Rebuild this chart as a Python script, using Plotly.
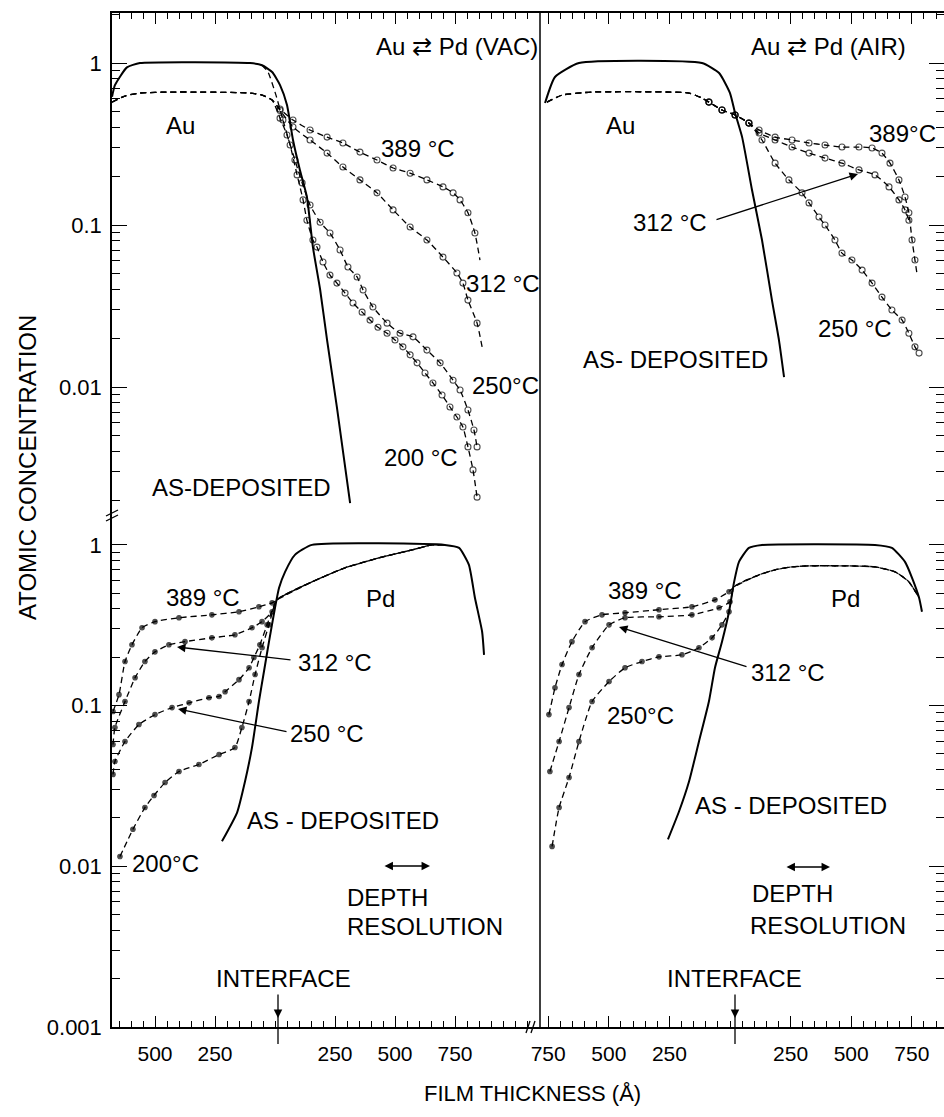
import plotly.graph_objects as go

# ---------------- depth profiles ----------------
# depth in Å from the Au/Pd interface (negative = Au side, positive = Pd side)
# concentration = atomic fraction

# Au profiles, vacuum anneal
au_vac_dep_x = [-679, -667, -617, -563, -104, -54, -12, 21, 50, 75, 104, 133, 158, 188, 217, 258, 313]
au_vac_dep_c = [0.62, 0.73, 0.94, 1.0, 1.0, 0.97, 0.88, 0.73, 0.55, 0.335, 0.218, 0.149, 0.073, 0.040, 0.0195, 0.0075, 0.00192]
au_vac_common_x = [-679, -625, -563, -438, -313, -104, -54, -12]
au_vac_common_c = [0.574, 0.626, 0.653, 0.662, 0.662, 0.653, 0.634, 0.591]
au_vac_389_x = [21, 75, 146, 217, 283, 354, 425, 492, 563, 633, 700, 742, 771, 804, 833, 854]
au_vac_389_c = [0.52, 0.445, 0.386, 0.349, 0.321, 0.282, 0.252, 0.225, 0.209, 0.190, 0.172, 0.158, 0.143, 0.119, 0.0893, 0.0608]
au_vac_312_x = [21, 75, 146, 217, 283, 354, 425, 492, 563, 633, 700, 758, 783, 804, 842, 863]
au_vac_312_c = [0.51, 0.403, 0.335, 0.278, 0.228, 0.190, 0.158, 0.124, 0.0972, 0.0808, 0.0634, 0.0506, 0.0438, 0.0344, 0.0248, 0.0177]
au_vac_250_x = [21, 50, 83, 113, 146, 188, 229, 271, 304, 342, 367, 408, 467, 521, 575, 633, 688, 742, 771, 804, 829, 842]
au_vac_250_c = [0.457, 0.360, 0.252, 0.182, 0.133, 0.104, 0.0893, 0.0701, 0.0551, 0.0478, 0.0397, 0.0312, 0.0248,
                0.0215, 0.0204, 0.0169, 0.0141, 0.0110, 0.00958, 0.00721, 0.00543, 0.00427]
au_vac_200_x = [-54, -29, 4, 33, 63, 92, 117, 133, 158, 175, 200, 229, 258, 292, 325, 363, 396, 429, 467, 500,
                533, 563, 592, 625, 658, 696, 729, 758, 783, 804, 825, 842]
au_vac_200_c = [0.97, 0.880, 0.634, 0.445, 0.312, 0.204, 0.143, 0.107, 0.0808, 0.0731, 0.0591, 0.0491, 0.0438,
                0.0380, 0.0330, 0.0290, 0.0259, 0.0234, 0.0215, 0.0195, 0.0177, 0.0158, 0.0141, 0.0122, 0.0106,
                0.00893, 0.00753, 0.00653, 0.00566, 0.00427, 0.00308, 0.00209]

# Au profiles, air anneal
au_air_dep_x = [-763, -722, -623, -116, -45, 0, 21, 50, 91, 132, 173, 202, 223]
au_air_dep_c = [0.567, 0.82, 1.0, 1.0, 0.868, 0.653, 0.491, 0.349, 0.164, 0.0808, 0.0344, 0.0195, 0.0115]
au_air_common_x = [-755, -693, -569, -169, -116, -87, -33, 21, 78]
au_air_common_c = [0.574, 0.634, 0.662, 0.653, 0.608, 0.574, 0.513, 0.478, 0.426]
au_air_389_x = [120, 186, 256, 326, 392, 462, 532, 586, 627, 660, 697, 722, 738, 751, 763, 771]
au_air_389_c = [0.386, 0.349, 0.335, 0.321, 0.312, 0.303, 0.303, 0.299, 0.278, 0.241, 0.190, 0.149, 0.119,
                0.0808, 0.0608, 0.0506]
au_air_312_x = [120, 186, 256, 326, 392, 462, 532, 598, 656, 697, 722, 738]
au_air_312_c = [0.370, 0.335, 0.303, 0.278, 0.259, 0.241, 0.219, 0.204, 0.172, 0.143, 0.124, 0.107]
au_air_250_x = [132, 186, 243, 297, 326, 367, 392, 433, 462, 503, 545, 586, 627, 668, 710, 738, 763, 780]
au_air_250_c = [0.335, 0.241, 0.190, 0.158, 0.137, 0.112, 0.100, 0.0808, 0.0671, 0.0608, 0.0527, 0.0438,
                0.0359, 0.0299, 0.0259, 0.0215, 0.0177, 0.0162]

# Pd profiles, vacuum anneal
pd_vac_dep_x = [-221, -158, -125, -96, -67, -46, -25, 0, 17, 42, 83, 154, 708, 767, 808, 833, 863, 871]
pd_vac_dep_c = [0.0143, 0.0216, 0.0337, 0.0548, 0.106, 0.163, 0.250, 0.406, 0.541, 0.680, 0.867, 1.0, 1.0,
                0.958, 0.751, 0.469, 0.288, 0.207]
pd_vac_common_x = [8, 154, 292, 433, 571, 654, 708]
pd_vac_common_c = [0.455, 0.589, 0.720, 0.830, 0.931, 1.0, 1.0]
pd_vac_389_x = [-675, -650, -625, -596, -554, -500, -400, -263, -150, -67, -12]
pd_vac_389_c = [0.0918, 0.117, 0.188, 0.239, 0.305, 0.333, 0.352, 0.367, 0.384, 0.412, 0.436]
pd_vac_312_x = [-675, -667, -625, -583, -542, -500, -442, -375, -263, -167, -96, -54, -12]
pd_vac_312_c = [0.0573, 0.0730, 0.106, 0.149, 0.188, 0.216, 0.239, 0.250, 0.264, 0.276, 0.305, 0.333, 0.384]
pd_vac_250_x = [-675, -667, -625, -567, -500, -429, -358, -275, -233, -208, -150, -108, -88, -63, -33]
pd_vac_250_c = [0.0373, 0.0449, 0.0598, 0.0762, 0.0879, 0.0972, 0.104, 0.112, 0.114, 0.122, 0.145, 0.172,
                0.199, 0.239, 0.318]
pd_vac_200_x = [-646, -592, -542, -504, -458, -400, -317, -233, -167, -138, -108, -83, -54, -25]
pd_vac_200_c = [0.0115, 0.0170, 0.0232, 0.0276, 0.0332, 0.0389, 0.0430, 0.0496, 0.0548, 0.0730, 0.106, 0.156,
                0.229, 0.318]

# Pd profiles, air anneal
pd_air_dep_x = [-256, -210, -169, -128, -87, -62, -33, -4, 17, 37, 78, 132, 598, 668, 722, 751, 780, 792]
pd_air_dep_c = [0.0147, 0.0220, 0.0337, 0.0598, 0.106, 0.172, 0.250, 0.384, 0.589, 0.784, 0.958, 1.0, 1.0,
                0.958, 0.784, 0.624, 0.469, 0.384]
pd_air_common_x = [17, 120, 186, 256, 326, 462, 598, 681, 738, 780]
pd_air_common_c = [0.548, 0.651, 0.700, 0.730, 0.741, 0.741, 0.730, 0.680, 0.589, 0.469]
pd_air_389_x = [-747, -722, -693, -652, -598, -528, -433, -293, -157, -62, -4]
pd_air_389_c = [0.0879, 0.129, 0.180, 0.250, 0.333, 0.367, 0.378, 0.395, 0.412, 0.455, 0.511]
pd_air_312_x = [-743, -705, -664, -623, -569, -499, -433, -293, -157, -45, 0]
pd_air_312_c = [0.0389, 0.0598, 0.0972, 0.156, 0.229, 0.318, 0.352, 0.357, 0.367, 0.406, 0.443]
pd_air_250_x = [-734, -705, -664, -623, -569, -499, -433, -363, -293, -198, -128, -74, -33, -4]
pd_air_250_c = [0.0133, 0.0232, 0.0357, 0.0598, 0.106, 0.141, 0.172, 0.188, 0.201, 0.207, 0.229, 0.264,
                0.318, 0.384]

# axis tick labels (distance from the interface)
x_left_ticks = [-750, -500, -250, 0, 250, 500, 750, 1000]
x_left_text = ["", "500", "250", "", "250", "500", "750", ""]
x_right_ticks = [-750, -500, -250, 0, 250, 500, 750]
x_right_text = ["750", "500", "250", "", "250", "500", "750"]
y_major = [0.001, 0.01, 0.1, 1]
y_major_text = ["0.001", "0.01", "0.1", "1"]

# ---------------- page geometry ----------------
FONT = "Liberation Sans, Arial, Helvetica, sans-serif"
W, H = 944, 1117
ML, MR, MT, MB = 112, 0, 13, 90
PW, PH = W - ML - MR, H - MT - MB
COL_SPLIT = 540
ROW_SPLIT = 515


def fx(p):
    return (p - ML) / PW


def fy(p):
    return (H - MB - p) / PH


col_l = [0, fx(COL_SPLIT)]
col_r = [fx(COL_SPLIT), 1]
row_t = [fy(ROW_SPLIT), 1]
row_b = [0, fy(ROW_SPLIT)]

fig = go.Figure()

AX = {"TL": ("x", "y"), "TR": ("x2", "y2"), "BL": ("x3", "y3"), "BR": ("x4", "y4")}
DASH = "6px,4px"


def deposited(panel, xs, cs):
    xa, ya = AX[panel]
    fig.add_trace(go.Scatter(x=xs, y=cs, mode="lines", xaxis=xa, yaxis=ya, hoverinfo="skip",
                             line=dict(color="black", width=2, shape="spline", smoothing=0.5)))


def annealed(panel, xs, cs, lo, hi, top=True):
    xa, ya = AX[panel]
    size = 6 if top else 4.5
    sizes = [size if lo <= x <= hi else 0 for x in xs]
    marker = dict(size=sizes, color="black", symbol="circle-open" if top else "circle",
                  line=dict(color="black", width=1.1))
    fig.add_trace(go.Scatter(x=xs, y=cs, mode="lines+markers", xaxis=xa, yaxis=ya, hoverinfo="skip",
                             line=dict(color="black", width=1.3, dash=DASH, shape="spline", smoothing=0.5),
                             marker=marker))


# upper left: Au, vacuum
deposited("TL", au_vac_dep_x, au_vac_dep_c)
annealed("TL", au_vac_common_x + au_vac_389_x, au_vac_common_c + au_vac_389_c, 21, 833)
annealed("TL", au_vac_common_x + au_vac_312_x, au_vac_common_c + au_vac_312_c, 21, 842)
annealed("TL", au_vac_common_x + au_vac_250_x, au_vac_common_c + au_vac_250_c, 21, 842)
annealed("TL", au_vac_200_x, au_vac_200_c, 33, 842)

# upper right: Au, air
deposited("TR", au_air_dep_x, au_air_dep_c)
annealed("TR", au_air_common_x + au_air_389_x, au_air_common_c + au_air_389_c, -87, 763)
annealed("TR", au_air_common_x + au_air_312_x, au_air_common_c + au_air_312_c, -87, 738)
annealed("TR", au_air_common_x + au_air_250_x, au_air_common_c + au_air_250_c, -87, 780)

# lower left: Pd, vacuum
deposited("BL", pd_vac_dep_x, pd_vac_dep_c)
for px_, pc_ in [(pd_vac_389_x, pd_vac_389_c), (pd_vac_312_x, pd_vac_312_c),
                 (pd_vac_250_x, pd_vac_250_c), (pd_vac_200_x, pd_vac_200_c)]:
    annealed("BL", px_ + pd_vac_common_x, pc_ + pd_vac_common_c, -700, 0, top=False)

# lower right: Pd, air
deposited("BR", pd_air_dep_x, pd_air_dep_c)
for px_, pc_ in [(pd_air_389_x, pd_air_389_c), (pd_air_312_x, pd_air_312_c), (pd_air_250_x, pd_air_250_c)]:
    annealed("BR", px_ + pd_air_common_x, pc_ + pd_air_common_c, -760, 5, top=False)

# ---------------- axes ----------------
tick_font = dict(family=FONT, size=21, color="black")


def x_axis(domain, rng, anchor, side, vals, text):
    lo, hi = rng
    minor_vals = [v for v in range(-1000, 1201, 50) if lo < v < hi]
    return dict(domain=domain, range=rng, anchor=anchor, side=side, showline=True, linecolor="black",
                linewidth=1.5, ticks="inside", ticklen=11, tickwidth=1.3, tickcolor="black",
                tickmode="array", tickvals=vals, ticktext=text, showticklabels=(side == "bottom"),
                tickfont=tick_font, ticklabelstandoff=7,
                minor=dict(tickmode="array", tickvals=minor_vals, ticks="inside", ticklen=6,
                           tickwidth=1.1, tickcolor="black", showgrid=False),
                showgrid=False, zeroline=False, fixedrange=True)


def y_axis(domain, rng, anchor, side):
    minor_vals = [m * 10.0 ** e for e in range(-3, 1) for m in range(2, 10)]
    return dict(type="log", domain=domain, range=rng, anchor=anchor, side=side,
                showline=(side == "left"), linecolor="black", linewidth=1.5,
                ticks="inside", ticklen=15, tickwidth=1.3, tickcolor="black",
                tickmode="array", tickvals=y_major, ticktext=y_major_text,
                showticklabels=(side == "left"), tickfont=dict(family=FONT, size=22, color="black"),
                ticklabelstandoff=4,
                minor=dict(tickmode="array", tickvals=minor_vals, ticks="inside", ticklen=8,
                           tickwidth=1.1, tickcolor="black", showgrid=False),
                showgrid=False, zeroline=False, fixedrange=True)


xl_rng = [(ML - 275) / 0.24, (COL_SPLIT - 275) / 0.24]
xr_rng = [(COL_SPLIT - 730) / 0.2424, (W - 730) / 0.2424]
yt_rng = [-2.790, 0.309]
yb_rng = [-3.0, 0.186]

fig.update_layout(
    xaxis=x_axis(col_l, xl_rng, "y", "top", x_left_ticks, x_left_text),
    xaxis2=x_axis(col_r, xr_rng, "y2", "top", x_right_ticks, x_right_text),
    xaxis3=x_axis(col_l, xl_rng, "y3", "bottom", x_left_ticks, x_left_text),
    xaxis4=x_axis(col_r, xr_rng, "y4", "bottom", x_right_ticks, x_right_text),
    yaxis=y_axis(row_t, yt_rng, "x", "left"),
    yaxis2=y_axis(row_t, yt_rng, "x2", "right"),
    yaxis3=y_axis(row_b, yb_rng, "x3", "left"),
    yaxis4=y_axis(row_b, yb_rng, "x4", "right"),
)

# ---------------- frame details ----------------
shapes = [
    # divider between the two anneal conditions
    dict(type="line", xref="paper", yref="paper", x0=fx(COL_SPLIT), x1=fx(COL_SPLIT), y0=0, y1=1,
         line=dict(color="black", width=1.5)),
    # break marks on the concentration axis and the depth axis
    dict(type="line", xref="paper", yref="paper", x0=fx(106), x1=fx(118), y0=fy(516), y1=fy(510),
         line=dict(color="black", width=1.3)),
    dict(type="line", xref="paper", yref="paper", x0=fx(106), x1=fx(118), y0=fy(521), y1=fy(515),
         line=dict(color="black", width=1.3)),
    dict(type="line", xref="paper", yref="paper", x0=fx(526), x1=fx(530), y0=fy(1033), y1=fy(1021),
         line=dict(color="black", width=1.3)),
    dict(type="line", xref="paper", yref="paper", x0=fx(531), x1=fx(535), y0=fy(1033), y1=fy(1021),
         line=dict(color="black", width=1.3)),
    # interface markers continue below the depth axis
    dict(type="line", xref="paper", yref="paper", x0=fx(278), x1=fx(278), y0=fy(1012), y1=fy(1044),
         line=dict(color="black", width=1.3)),
    dict(type="line", xref="paper", yref="paper", x0=fx(735), x1=fx(735), y0=fy(1012), y1=fy(1044),
         line=dict(color="black", width=1.3)),
]
fig.update_layout(shapes=shapes)


def label(text, x, y, anchor="center", size=24, angle=0):
    fig.add_annotation(x=fx(x), y=fy(y), xref="paper", yref="paper", text=text, showarrow=False,
                       xanchor=anchor, yanchor="middle", textangle=angle,
                       font=dict(family=FONT, size=size, color="black"))


def pointer(x0, y0, x1, y1, both=False):
    fig.add_annotation(x=fx(x1), y=fy(y1), xref="paper", yref="paper", ax=x0 - x1, ay=y0 - y1,
                       text="", showarrow=True, arrowhead=2, arrowsize=1.3, arrowwidth=1.3,
                       arrowcolor="black", standoff=0, startstandoff=0,
                       arrowside="end+start" if both else "end", startarrowhead=2, startarrowsize=1.3)


# upper left
label("Au \u21c4 Pd (VAC)", 457, 47)
label("Au", 180, 125)
label("389 \u00b0C", 418, 148)
label("312 \u00b0C", 503, 283)
label("250\u00b0C", 505, 385)
label("200 \u00b0C", 421, 457)
label("AS-DEPOSITED", 241, 488)
# upper right
label("Au \u21c4 Pd (AIR)", 828, 47)
label("Au", 620, 125)
label("389\u00b0C", 902, 133)
label("312 \u00b0C", 670, 222)
pointer(715, 220, 858, 174)
label("250 \u00b0C", 855, 328)
label("AS- DEPOSITED", 675, 360)
# lower left
label("389 \u00b0C", 203, 597)
label("Pd", 380, 598)
label("312 \u00b0C", 335, 663)
pointer(292, 660, 177, 647)
label("250 \u00b0C", 327, 733)
pointer(288, 732, 178, 709)
label("AS - DEPOSITED", 343, 820)
label("200\u00b0C", 165, 863)
pointer(383, 866, 430, 866, both=True)
label("DEPTH", 345, 897, anchor="left")
label("RESOLUTION", 345, 927, anchor="left")
label("INTERFACE", 283, 978)
pointer(278, 993, 278, 1018)
# lower right
label("389 \u00b0C", 645, 590)
label("Pd", 845, 598)
label("312 \u00b0C", 788, 672)
pointer(748, 667, 619, 627)
label("250\u00b0C", 640, 715)
label("AS - DEPOSITED", 791, 805)
pointer(785, 867, 830, 867, both=True)
label("DEPTH", 750, 893, anchor="left")
label("RESOLUTION", 748, 925, anchor="left")
label("INTERFACE", 734, 978)
pointer(735, 993, 735, 1018)

# axis titles
label("ATOMIC CONCENTRATION", 28, 468, angle=-90)
label("FILM THICKNESS (\u00c5)", 532, 1093, size=22)

fig.update_layout(width=W, height=H, margin=dict(l=ML, r=MR, t=MT, b=MB, autoexpand=False),
                  paper_bgcolor="white", plot_bgcolor="white", showlegend=False,
                  font=dict(family=FONT, color="black"))

fig.write_html("out.html")
